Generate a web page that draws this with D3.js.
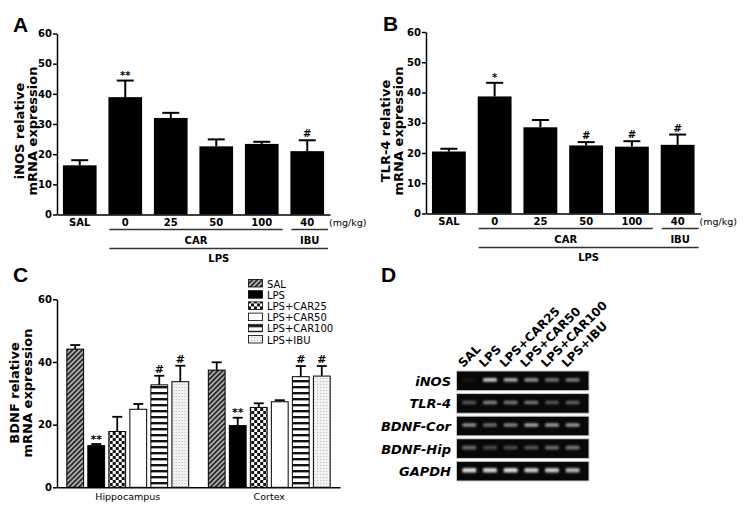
<!DOCTYPE html>
<html><head><meta charset="utf-8">
<script src="https://cdn.jsdelivr.net/npm/d3@7"></script>
<style>
body{margin:0;background:#fff;}
svg{display:block;}
text{font-family:"DejaVu Sans",Verdana,sans-serif;}
</style></head>
<body><svg id="chart" width="751" height="525"></svg>
<script>
// ---------- DATA ----------
const doseLabels = ["SAL", "0", "25", "50", "100", "40"];
const inosMean = [16.3, 38.9, 32.0, 22.6, 23.4, 21.0];
const inosErr  = [1.7, 5.5, 1.7, 2.3, 0.7, 3.6];
const inosSig  = ["", "**", "", "", "", "#"];
const tlrMean  = [20.5, 38.7, 28.5, 22.5, 22.1, 22.7];
const tlrErr   = [0.9, 4.5, 2.4, 1.1, 1.8, 3.4];
const tlrSig   = ["", "*", "", "#", "#", "#"];
const ticksAB  = [0, 10, 20, 30, 40, 50, 60];
const carDoses = ["0", "25", "50", "100"];
const ibuDoses = ["40"];
const lpsDoses = ["0", "25", "50", "100", "40"];

const regions    = ["Hippocampus", "Cortex"];
const treatments = ["SAL", "LPS", "LPS+CAR25", "LPS+CAR50", "LPS+CAR100", "LPS+IBU"];
const bdnfHip    = [44.1, 13.3, 17.8, 24.9, 32.7, 33.7];
const bdnfHipErr = [1.3, 0.5, 4.7, 1.7, 2.9, 5.1];
const bdnfHipSig = ["", "**", "", "", "#", "#"];
const bdnfCor    = [37.4, 19.7, 25.5, 27.3, 35.3, 35.5];
const bdnfCorErr = [2.5, 2.5, 1.3, 0.5, 3.4, 3.2];
const bdnfCorSig = ["", "**", "", "", "#", "#"];
const ticksC     = [0, 20, 40, 60];

const gelGenes = ["iNOS", "TLR-4", "BDNF-Cor", "BDNF-Hip", "GAPDH"];
const gelInos  = [0.05, 0.85, 0.7, 0.6, 0.45, 0.5];
const gelTlr   = [0.35, 0.55, 0.5, 0.5, 0.35, 0.4];
const gelCor   = [0.6, 0.45, 0.55, 0.7, 0.65, 0.65];
const gelHip   = [0.45, 0.3, 0.3, 0.35, 0.45, 0.5];
const gelGapdh = [0.95, 0.9, 0.95, 0.85, 0.85, 0.75];

// ---------- SETUP ----------
const svg = d3.select("#chart");
svg.append("rect").attr("width", 751).attr("height", 525).attr("fill", "#fff");
const defs = svg.append("defs");

const pSal = defs.append("pattern").attr("id", "pSAL").attr("patternUnits", "userSpaceOnUse")
  .attr("width", 3.5).attr("height", 3.5).attr("patternTransform", "rotate(45)");
pSal.append("rect").attr("width", 3.5).attr("height", 3.5).attr("fill", "#b0b0b0");
pSal.append("rect").attr("width", 1.8).attr("height", 3.5).attr("fill", "#2a2a2a");

const pChk = defs.append("pattern").attr("id", "pCAR25").attr("patternUnits", "userSpaceOnUse")
  .attr("width", 6).attr("height", 6);
pChk.append("rect").attr("width", 6).attr("height", 6).attr("fill", "#fff");
pChk.append("rect").attr("width", 3).attr("height", 3).attr("fill", "#111");
pChk.append("rect").attr("x", 3).attr("y", 3).attr("width", 3).attr("height", 3).attr("fill", "#111");

const pStr = defs.append("pattern").attr("id", "pCAR100").attr("patternUnits", "userSpaceOnUse")
  .attr("width", 6).attr("height", 6);
pStr.append("rect").attr("width", 6).attr("height", 6).attr("fill", "#fff");
pStr.append("rect").attr("y", 2).attr("width", 6).attr("height", 2.4).attr("fill", "#111");

const pDot = defs.append("pattern").attr("id", "pIBU").attr("patternUnits", "userSpaceOnUse")
  .attr("width", 3).attr("height", 3);
pDot.append("rect").attr("width", 3).attr("height", 3).attr("fill", "#f2f2f2");
pDot.append("rect").attr("width", 1).attr("height", 1).attr("fill", "#b5b5b5");

const blur = defs.append("filter").attr("id", "blur").attr("x", "-50%").attr("y", "-100%")
  .attr("width", "200%").attr("height", "300%");
blur.append("feGaussianBlur").attr("stdDeviation", 0.9);

const fills = {
  "SAL": "url(#pSAL)", "LPS": "#000", "LPS+CAR25": "url(#pCAR25)",
  "LPS+CAR50": "#fff", "LPS+CAR100": "url(#pCAR100)", "LPS+IBU": "url(#pIBU)"
};

function panelLetter(t, x, y) {
  svg.append("text").attr("x", x).attr("y", y).text(t)
    .style("font-family", "'Liberation Sans',Arial,sans-serif")
    .attr("font-weight", "bold").attr("font-size", 21);
}

function yLabel(lines, x0, cy, size) {
  const g = svg.append("text").attr("transform", `translate(${x0},${cy}) rotate(-90)`)
    .attr("text-anchor", "middle").attr("font-weight", "bold").attr("font-size", size);
  lines.forEach((l, i) => g.append("tspan").attr("x", 0).attr("dy", i === 0 ? 0 : 13).text(l));
}

function styleAxis(g) {
  g.selectAll("path,line").attr("stroke", "#000").attr("stroke-width", 1.5);
}

// ---------- PANELS A & B ----------
function doseChart(o) {
  const x = d3.scaleBand().domain(doseLabels).range([o.x0, o.x1])
    .paddingInner(0.26).paddingOuter(0.13);
  const y = d3.scaleLinear().domain([0, 60]).range([o.yb, o.yt]);
  const bw = x.bandwidth();

  const gy = svg.append("g").attr("transform", `translate(${o.x0},0)`)
    .call(d3.axisLeft(y).tickValues(ticksAB).tickSize(4).tickPadding(1).tickSizeOuter(0));
  styleAxis(gy);
  gy.selectAll("text").attr("font-size", 10).attr("font-weight", "bold")
    .style("font-family", "'DejaVu Sans',sans-serif");

  const gx = svg.append("g").attr("transform", `translate(0,${o.yb})`)
    .call(d3.axisBottom(x).tickSize(0).tickPadding(4).tickSizeOuter(0));
  styleAxis(gx);
  gx.selectAll("text").attr("font-size", 10).attr("font-weight", "bold")
    .style("font-family", "'DejaVu Sans',sans-serif");

  svg.append("g").selectAll("rect").data(doseLabels).join("rect")
    .attr("x", d => x(d)).attr("width", bw)
    .attr("y", (d, i) => y(o.mean[i])).attr("height", (d, i) => y(0) - y(o.mean[i]))
    .attr("fill", "#000");

  const eg = svg.append("g").attr("stroke", "#000").attr("stroke-width", 2);
  doseLabels.forEach((d, i) => {
    const cx = x(d) + bw / 2, top = y(o.mean[i] + o.err[i]);
    eg.append("line").attr("x1", cx).attr("x2", cx).attr("y1", y(o.mean[i])).attr("y2", top);
    eg.append("line").attr("x1", cx - 8.5).attr("x2", cx + 8.5).attr("y1", top).attr("y2", top);
    if (o.sig[i]) svg.append("text").attr("x", cx).attr("y", top - (o.sig[i] === "#" ? 3 : 1.5))
      .attr("text-anchor", "middle").attr("font-weight", "bold").attr("font-size", 10).text(o.sig[i]);
  });

  svg.append("text").attr("x", x("40") + bw + 5).attr("y", o.yb + 11.5)
    .attr("font-size", 9.5).text("(mg/kg)");

  function bracket(keys, ly, label, ty) {
    const a = x(keys[0]) + 1, b = x(keys[keys.length - 1]) + bw + 4;
    svg.append("line").attr("x1", a).attr("x2", b).attr("y1", ly).attr("y2", ly)
      .attr("stroke", "#333").attr("stroke-width", 1.5);
    svg.append("text").attr("x", (a + b) / 2).attr("y", ty).attr("text-anchor", "middle")
      .attr("font-weight", "bold").attr("font-size", 10).text(label);
  }
  bracket(carDoses, o.yb + 15, "CAR", o.yb + 29);
  bracket(ibuDoses, o.yb + 15, "IBU", o.yb + 29);
  bracket(lpsDoses, o.yb + 34, "LPS", o.yb + 47);

  yLabel(o.ylab, o.labX, 131, 13);
}

panelLetter("A", 13, 32);
doseChart({ x0: 57, x1: 330, yb: 214.5, yt: 33.5, mean: inosMean, err: inosErr, sig: inosSig,
  ylab: ["iNOS relative", "mRNA expression"], labX: 24 });
panelLetter("B", 383, 31);
doseChart({ x0: 426, x1: 700.5, yb: 213.5, yt: 32, mean: tlrMean, err: tlrErr, sig: tlrSig,
  ylab: ["TLR-4 relative", "mRNA expression"], labX: 390 });

// ---------- PANEL C ----------
panelLetter("C", 13, 282);
{
  const x0 = d3.scaleBand().domain(regions).range([57, 340]).paddingInner(0.109).paddingOuter(0.0545);
  const x1 = d3.scaleBand().domain(treatments).range([0, x0.bandwidth()]).paddingInner(0.2).paddingOuter(0.1);
  const y = d3.scaleLinear().domain([0, 60]).range([487.3, 299.3]);
  const bw = x1.bandwidth();

  const gy = svg.append("g").attr("transform", "translate(57,0)")
    .call(d3.axisLeft(y).tickValues(ticksC).tickSize(4).tickPadding(1).tickSizeOuter(0));
  styleAxis(gy);
  gy.selectAll("text").attr("font-size", 10).attr("font-weight", "bold")
    .style("font-family", "'DejaVu Sans',sans-serif");
  const gx = svg.append("g").attr("transform", "translate(0,487.3)")
    .call(d3.axisBottom(x0).tickSize(0).tickPadding(6).tickSizeOuter(0));
  styleAxis(gx);
  gx.selectAll("text").attr("font-size", 9.5).style("font-family", "'DejaVu Sans',sans-serif");

  const series = { "Hippocampus": [bdnfHip, bdnfHipErr, bdnfHipSig], "Cortex": [bdnfCor, bdnfCorErr, bdnfCorSig] };
  regions.forEach(r => {
    const [m, e, s] = series[r];
    const g = svg.append("g").attr("transform", `translate(${x0(r)},0)`);
    g.selectAll("rect").data(treatments).join("rect")
      .attr("x", d => x1(d)).attr("width", bw)
      .attr("y", (d, i) => y(m[i])).attr("height", (d, i) => y(0) - y(m[i]))
      .attr("fill", d => fills[d]).attr("stroke", "#000").attr("stroke-width", 1);
    treatments.forEach((d, i) => {
      const cx = x1(d) + bw / 2, top = y(m[i] + e[i]);
      g.append("line").attr("x1", cx).attr("x2", cx).attr("y1", y(m[i])).attr("y2", top)
        .attr("stroke", "#000").attr("stroke-width", 1.8);
      g.append("line").attr("x1", cx - 5).attr("x2", cx + 5).attr("y1", top).attr("y2", top)
        .attr("stroke", "#000").attr("stroke-width", 1.8);
      if (s[i]) g.append("text").attr("x", cx).attr("y", top - (s[i] === "#" ? 3 : 1.5))
        .attr("text-anchor", "middle").attr("font-weight", "bold").attr("font-size", 11).text(s[i]);
    });
  });

  const lg = svg.append("g").attr("transform", "translate(248,278)");
  treatments.forEach((t, i) => {
    const row = lg.append("g").attr("transform", `translate(0,${i * 11.2})`);
    row.append("rect").attr("x", 0.5).attr("y", 1.5).attr("width", 14).attr("height", 7.5)
      .attr("fill", fills[t]).attr("stroke", "#000").attr("stroke-width", 0.8);
    row.append("text").attr("x", 19).attr("y", 9.5).attr("font-size", 10).text(t);
  });

  yLabel(["BDNF relative", "mRNA expression"], 19, 393, 13);
}

// ---------- PANEL D ----------
panelLetter("D", 381, 282);
{
  const rows = d3.scaleBand().domain(gelGenes).range([371, 481]).paddingInner(0.13);
  const lanes = d3.scaleBand().domain(treatments).range([459, 583]);
  const gelX0 = 456.5, gelX1 = 589;
  const inten = { "iNOS": gelInos, "TLR-4": gelTlr, "BDNF-Cor": gelCor, "BDNF-Hip": gelHip, "GAPDH": gelGapdh };
  const rh = rows.bandwidth();

  gelGenes.forEach(gn => {
    const ry = rows(gn);
    svg.append("rect").attr("x", gelX0).attr("y", ry).attr("width", gelX1 - gelX0).attr("height", rh)
      .attr("fill", "#080808").attr("stroke", "#c8c8c8").attr("stroke-width", 1);
    const bh = gn === "GAPDH" ? 4.5 : 3.6;
    svg.append("g").attr("filter", "url(#blur)").selectAll("rect").data(treatments).join("rect")
      .attr("x", d => lanes(d) + lanes.bandwidth() * 0.16).attr("width", lanes.bandwidth() * 0.68)
      .attr("y", ry + rh * 0.45 - bh / 2).attr("height", bh).attr("rx", 1.5)
      .attr("fill", "#e8e8e8").attr("opacity", (d, i) => inten[gn][i]);
    svg.append("text").attr("x", 451).attr("y", ry + rh / 2 + 5).attr("text-anchor", "end")
      .attr("font-weight", "bold").attr("font-style", "italic").attr("font-size", 13).text(gn);
  });

  treatments.forEach(t => {
    const lx = lanes(t) + lanes.bandwidth() / 2 - 6;
    svg.append("text").attr("transform", `translate(${lx},368) rotate(-45)`)
      .attr("font-weight", "bold").attr("font-size", 12).text(t);
  });
}
</script></body></html>
